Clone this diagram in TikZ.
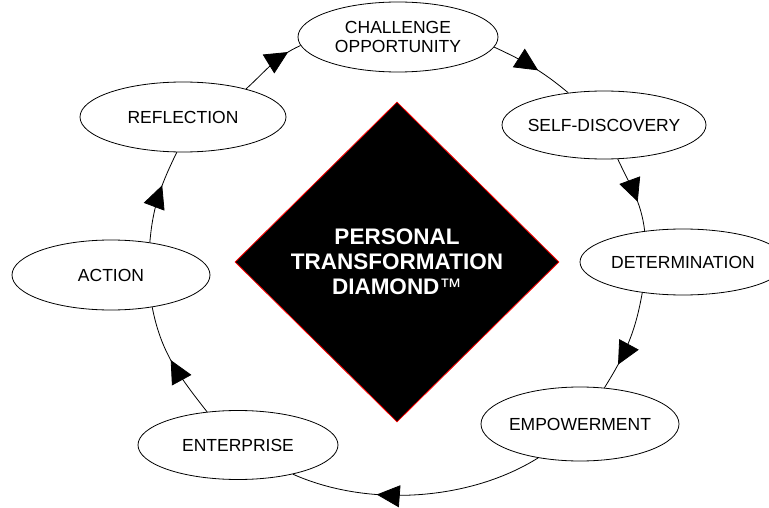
\documentclass[tikz,border=0pt]{standalone}
\usepackage{fontspec}
\setmainfont{Liberation Sans}
\usetikzlibrary{shapes.geometric,arrows.meta,decorations.markings}
\begin{document}
\begin{tikzpicture}[x=1pt,y=-1pt,
  stage/.style 2 args={ellipse, draw=black, fill=white, line width=0.8pt,
    minimum width=#1, minimum height=#2, inner sep=0pt},
  stagetext/.style={font=\fontsize{17.5}{18.5}\selectfont, align=center,
    inner sep=0pt, text=black},
  flow/.style={draw=black, line width=0.8pt, postaction={decorate},
    decoration={markings, mark=at position #1 with
      {\arrow{Triangle[length=23pt,width=22pt]}}}},
  core/.style={diamond, draw=red, fill=black, line width=0.8pt,
    minimum width=324pt, minimum height=320pt, inner sep=0pt,
    text=white, align=center, font=\bfseries\fontsize{22.5}{25}\selectfont}
]
\useasboundingbox (0,0) rectangle (769,508);
\clip (0,0) rectangle (769,508);

% central diamond
\node[core] (diamond) at (397,262)
  {PERSONAL\\TRANSFORMATION\\DIAMOND{\mdseries ™}};

% stages of the cycle
\node[stage={200pt}{70pt}, label={[stagetext]center:{CHALLENGE\\OPPORTUNITY}}] (chal) at (398,37) {};
\node[stage={204pt}{68pt}, label={[stagetext]center:SELF-DISCOVERY}] (self) at (604,125) {};
\node[stage={206pt}{66pt}, label={[stagetext]center:DETERMINATION}] (det) at (683,262) {};
\node[stage={198pt}{74pt}, label={[stagetext]center:EMPOWERMENT}] (emp) at (580,424) {};
\node[stage={200pt}{69pt}, label={[stagetext]center:ENTERPRISE}] (ent) at (238,445) {};
\node[stage={198pt}{70pt}, label={[stagetext]center:ACTION}] (act) at (111,275) {};
\node[stage={206pt}{70pt}, label={[stagetext]center:REFLECTION}] (refl) at (183,117) {};

% connectors around the cycle
\draw[flow=0.8]  (refl.24)  to[out=42,in=204] (chal.185);
\draw[flow=0.57] (chal.-6)  to[out=-25,in=140] (self.138);
\draw[flow=0.61] (self.-68) to[out=-65,in=97] (det.141);
\draw[flow=0.74] (det.217)  to[out=-100,in=58] (emp.56);
\draw[flow=0.66] (emp.219)  to[out=212,in=-24,looseness=0.85] (ent.-28);
\draw[flow=0.53] (ent.133)  to[out=128,in=281] (act.-38);
\draw[flow=0.62] (act.40)   to[out=85,in=244] (refl.260);
\end{tikzpicture}
\end{document}
